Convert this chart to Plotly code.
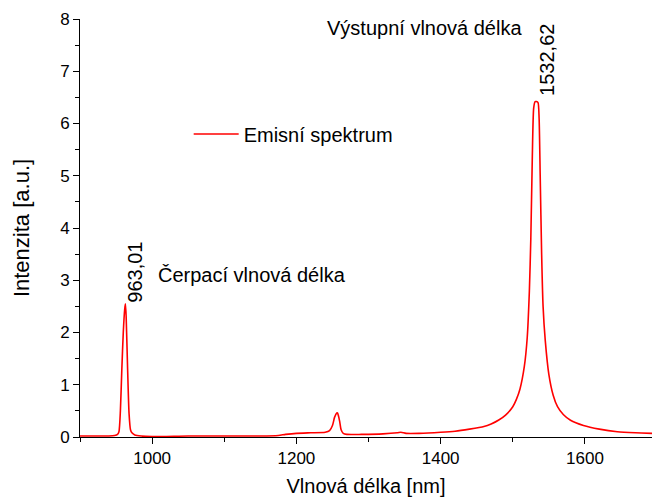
import plotly.graph_objects as go

wavelength = [900, 920, 940, 948, 952, 954, 956, 958, 960, 962, 963, 964, 966, 968, 970, 972, 976, 985,
              1000, 1050, 1100, 1150, 1175, 1185, 1200, 1220, 1240, 1246, 1250, 1253, 1256, 1257, 1258,
              1260, 1262, 1265, 1270, 1290, 1320, 1340, 1345, 1352, 1370, 1400, 1420, 1440, 1460,
              1470, 1480, 1490, 1500, 1505, 1510, 1516, 1520, 1523, 1525, 1527, 1529, 1531, 1532.6,
              1535, 1536.5, 1538, 1540, 1542, 1545, 1550, 1556, 1562, 1570, 1580, 1598, 1620,
              1645, 1670, 1693]
intensity = [0.02, 0.02, 0.02, 0.03, 0.05, 0.1, 0.5, 1.3, 2.0, 2.45, 2.55, 2.3, 1.3, 0.45, 0.14, 0.08, 0.04, 0.02,
             0.01, 0.02, 0.02, 0.02, 0.03, 0.05, 0.07, 0.08, 0.09, 0.12, 0.22, 0.38, 0.46, 0.46, 0.42,
             0.3, 0.14, 0.07, 0.05, 0.05, 0.06, 0.08, 0.09, 0.07, 0.07, 0.09, 0.11, 0.15, 0.2,
             0.25, 0.32, 0.42, 0.58, 0.72, 0.92, 1.35, 1.9, 2.8, 3.8, 5.3, 6.3, 6.42, 6.42,
             6.4, 6.1, 5.0, 3.5, 2.5, 1.85, 1.2, 0.8, 0.58, 0.43, 0.32, 0.22, 0.15,
             0.1, 0.08, 0.07]

pump_peak = (963.01, 2.55)
output_peak = (1532.62, 6.42)

FAM = "Liberation Sans, Arial, sans-serif"
font = dict(family=FAM, size=20, color="black")

fig = go.Figure()
fig.add_trace(go.Scatter(x=wavelength, y=intensity, mode="lines", name="Emisní spektrum",
                         line=dict(color="#ff0000", width=1.6, shape="spline", smoothing=0.6)))

fig.add_annotation(x=pump_peak[0], y=pump_peak[1], text="963,01", textangle=-90, showarrow=False,
                   xanchor="left", yanchor="bottom", xshift=-3, yshift=-1, font=font)
fig.add_annotation(x=output_peak[0], y=output_peak[1], text="1532,62", textangle=-90, showarrow=False,
                   xanchor="left", yanchor="bottom", xshift=-3, yshift=4, font=font)
fig.add_annotation(x=1005, y=3.1, text="Čerpací vlnová délka", showarrow=False,
                   xanchor="left", yanchor="middle", font=font)
fig.add_annotation(x=1240, y=7.83, text="Výstupní vlnová délka", showarrow=False,
                   xanchor="left", yanchor="middle", font=font)

axis_common = dict(showline=True, linecolor="black", linewidth=1, ticks="outside", ticklen=6,
                   tickcolor="black", showgrid=False, zeroline=False, mirror=False,
                   tickfont=dict(family=FAM, size=17, color="black"))

fig.update_layout(
    width=652, height=497,
    margin=dict(l=80, r=0, t=19, b=60, autoexpand=False),
    plot_bgcolor="white", paper_bgcolor="white",
    showlegend=True,
    legend=dict(x=0.19, y=0.725, xanchor="left", yanchor="middle", bgcolor="rgba(0,0,0,0)",
                itemwidth=45, font=dict(family=FAM, size=20, color="black")),
    xaxis=dict(range=[900, 1693], tickvals=[1000, 1200, 1400, 1600],
               minor=dict(ticks="outside", ticklen=4, tickcolor="black", dtick=100, tick0=900),
               title=dict(text="Vlnová délka [nm]", standoff=11, font=dict(family=FAM, size=20, color="black")),
               automargin=False, **axis_common),
    yaxis=dict(range=[0, 8], dtick=1,
               minor=dict(ticks="outside", ticklen=4, tickcolor="black", dtick=0.5),
               title=dict(text="Intenzita [a.u.]", standoff=24, font=dict(family=FAM, size=22, color="black")),
               automargin=False, **axis_common),
)

fig.write_html("out.html")
